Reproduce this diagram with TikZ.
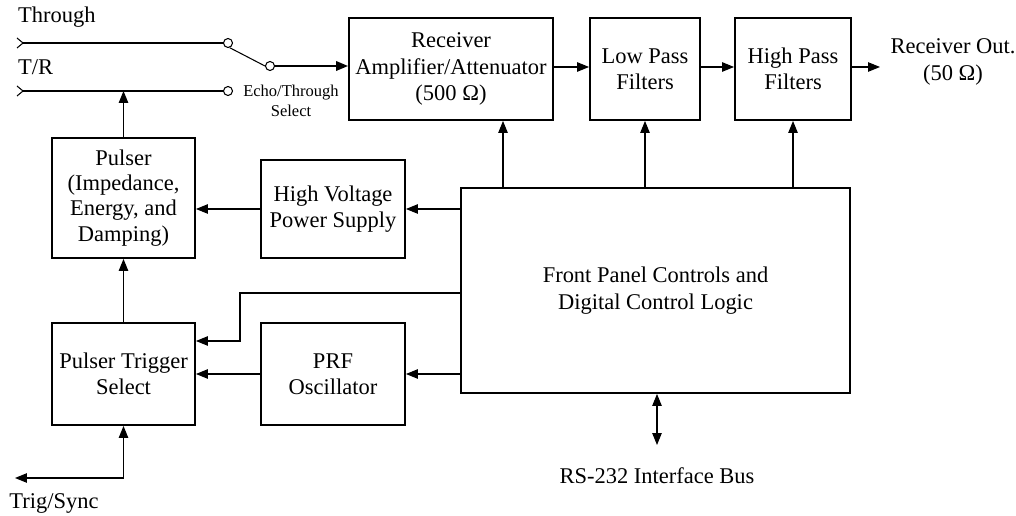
\documentclass[tikz,border=0pt]{standalone}
\usepackage{fontspec}
\setmainfont{Liberation Serif}
\usepackage{tikz}
\usetikzlibrary{
	arrows.meta,
	calc,
	positioning
}
\tikzset{
	blk/.style={draw, line width=1.1pt, align=center, inner sep=2pt, font=\fontsize{12.8}{15}\selectfont},
	arr/.style={semithick, -{Triangle[length=2.4mm,width=1.9mm]}},
	pin/.style={draw, semithick, circle, inner sep=0pt, minimum size=1.8mm, fill=white},
	lbl/.style={align=center, font=\fontsize{12.8}{15}\selectfont}
}

\begin{document}
\begin{tikzpicture}[x={(0.02cm,0)}, y={(0,-0.02cm)}] %坐标按像素写，y 轴朝下
		\useasboundingbox (0,0) rectangle (1016,516);
		% 方框
		\node[blk, minimum width=4.08cm, minimum height=2.04cm] (rcv) at (451,69) {Receiver\\Amplifier/Attenuator\\(500 Ω)};
		\node[blk, minimum width=2.2cm, minimum height=2.04cm] (lpf) at (645,69) {Low Pass\\Filters};
		\node[blk, minimum width=2.32cm, minimum height=2.04cm] (hpf) at (793,69) {High Pass\\Filters};
		\node[blk, minimum width=2.86cm, minimum height=2.4cm, font=\fontsize{12.8}{14.3}\selectfont] (pls) at (123.5,198) {Pulser\\(Impedance,\\Energy, and\\Damping)};
		\node[blk, minimum width=2.88cm, minimum height=1.96cm] (hvps) at (333,209) {High Voltage\\Power Supply};
		\node[blk, minimum width=7.78cm, minimum height=4.1cm] (fp) at (655.5,290.5) {Front Panel Controls and\\Digital Control Logic};
		\node[blk, minimum width=2.86cm, minimum height=2.04cm] (pts) at (123.5,374) {Pulser Trigger\\Select};
		\node[blk, minimum width=2.88cm, minimum height=2.04cm] (prf) at (333,374) {PRF\\Oscillator};
		% 开关
		\coordinate (thrin) at (23,43);
		\coordinate (trin) at (23,91);
		\draw[semithick] (17,38) -- (thrin) -- (17,48);
		\draw[semithick] (17,86) -- (trin) -- (17,96);
		\node[pin] (c1) at (228,43) {};
		\node[pin] (c2) at (228,91) {};
		\node[pin] (c3) at (270,66) {};
		\draw[semithick] (thrin) -- (c1.west);
		\draw[semithick] (trin) -- (c2.west);
		\draw[semithick] (c1.-70) -- (c3.west);
		\draw[arr, line width=1.1pt] (c3.east) -- (c3 -| rcv.west);
		\node[font=\fontsize{9.4}{11}\selectfont, align=center] (echo) at (291,101) {Echo/Through\\Select};
		\node[lbl, anchor=west] (thr) at (12,17) {Through};
		\node[lbl, anchor=west] (trl) at (12,67) {T/R};
		% 信号通路
		\coordinate (out) at (880,67);
		\draw[arr] (rcv.east |- out) -- (lpf.west |- out);
		\draw[arr] (lpf.east |- out) -- (hpf.west |- out);
		\draw[arr] (hpf.east |- out) -- (out);
		\node[lbl] (rout) at (953,62) {Receiver Out.\\(50 Ω)};
		\draw[arr] (fp.north -| 503,0) -- (rcv.south -| 503,0);
		\draw[arr] (fp.north -| lpf) -- (lpf.south);
		\draw[arr] (fp.north -| hpf) -- (hpf.south);
		\draw[arr] (fp.west |- hvps) -- (hvps.east);
		\draw[arr] (hvps.west) -- (pls.east |- hvps);
		\draw[arr] (fp.west |- prf) -- (prf.east);
		\draw[arr] (prf.west) -- (pts.east |- prf);
		\draw[arr] (fp.west |- 0,293) -| (240,341) -- (pts.east |- 0,341);
		\draw[arr] (pts.north) -- (pls.south);
		\draw[arr] (pls.north) -- (pls.north |- c2);
		% 触发与总线
		\coordinate (ts) at (123.5,478);
		\coordinate (tsend) at (15,478);
		\draw[arr] (ts) -- (pts.south);
		\draw[arr] (ts) -- (tsend);
		\node[lbl] (tslbl) at (54,503) {Trig/Sync};
		\coordinate (bus) at (657,445);
		\draw[semithick, {Triangle[length=2.4mm,width=1.9mm]}-{Triangle[length=2.4mm,width=1.9mm]}] (fp.south -| bus) -- (bus);
		\node[lbl] (buslbl) at (657,476) {RS-232 Interface Bus};
	\end{tikzpicture}
\end{document}
